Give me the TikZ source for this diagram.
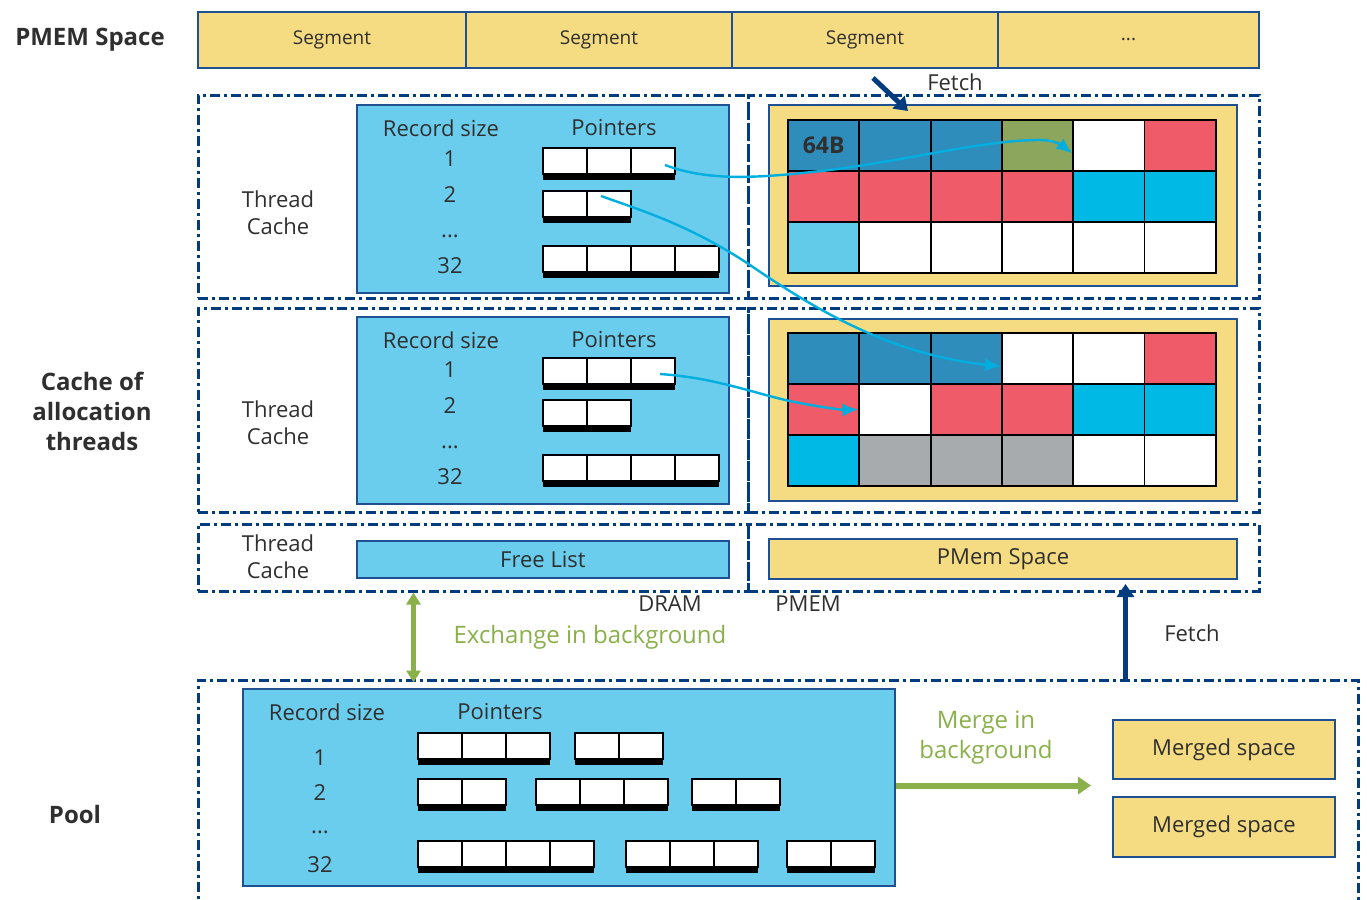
\documentclass[tikz,border=0pt]{standalone}
\usepackage{fontspec}
\setmainfont{Open Sans}
\usepackage{xcolor}
\usepackage{tikz}
\usetikzlibrary{positioning,arrows.meta,calc}
\definecolor{navy}{HTML}{003C7E}
\definecolor{edge}{HTML}{1F5192}
\definecolor{txt}{HTML}{2F2F2F}
\definecolor{sand}{HTML}{F5DC82}
\definecolor{sky}{HTML}{6BCDED}
\definecolor{leaf}{HTML}{8AB04A}
\definecolor{wire}{HTML}{00AEDF}
\definecolor{cdk}{HTML}{2E8DBA}
\definecolor{cog}{HTML}{8CA65E}
\definecolor{crd}{HTML}{EF5B69}
\definecolor{ccy}{HTML}{00B9E5}
\definecolor{clb}{HTML}{63CBEA}
\definecolor{cgy}{HTML}{A8ABAE}
\definecolor{cwh}{HTML}{FFFFFF}

% one row of pointer slots: name, left x, top y, number of slots
\newcommand{\ptrarray}[4]{%
  \fill[black] (#2,#3+26) rectangle ++(44*#4,6);
  \foreach \k in {1,...,#4}
    \node[ptrcell] (#1-\k) at ({#2+44*(\k-0.5)},{#3+13}) {};
}

\begin{document}
\begin{tikzpicture}[x=1pt, y=-1pt,
  font=\fontsize{22}{27}\selectfont,
  every node/.append style={text=txt},
  zone/.style={draw=navy, line width=3pt, dash pattern=on 10pt off 4pt on 3pt off 4pt, inner sep=0pt},
  panel/.style={draw=edge, line width=2pt, inner sep=0pt},
  ptrcell/.style={draw=black, fill=white, line width=1.6pt, minimum width=44pt, minimum height=26pt, inner sep=0pt},
  cell/.style={draw=black, line width=1.8pt, minimum width=71.3pt, minimum height=51pt, inner sep=0pt},
  side/.style={font=\bfseries\fontsize{24}{30}\selectfont, align=center},
  link/.style={-{Latex[length=16pt,width=13pt]}, line width=2.4pt, draw=wire},
  fetch/.style={-{Triangle[length=13pt,width=17pt]}, line width=5pt, draw=navy},
  xchg/.style={{Triangle[length=12pt,width=14pt]}-{Triangle[length=12pt,width=14pt]}, line width=5pt, draw=leaf},
  merge/.style={-{Triangle[length=13pt,width=17pt]}, line width=6pt, draw=leaf}
]
  \useasboundingbox (0,0) rectangle (1367,899);

  % PMEM SPACE: segment bar
  \node[side] (pmemlbl) at (90,40) {PMEM Space};
  \node[panel, fill=sand, minimum width=268pt, minimum height=56pt, font=\fontsize{19}{23}\selectfont] (seg1) at (332,40) {Segment};
  \node[panel, fill=sand, minimum width=266pt, minimum height=56pt, font=\fontsize{19}{23}\selectfont] (seg2) at (599,40) {Segment};
  \node[panel, fill=sand, minimum width=266pt, minimum height=56pt, font=\fontsize{19}{23}\selectfont] (seg3) at (865,40) {Segment};
  \node[panel, fill=sand, minimum width=261pt, minimum height=56pt, font=\fontsize{19}{23}\selectfont] (seg4) at (1128.5,40) {...};

  % dashed zones (DRAM left, PMEM right)
  \node[zone, minimum width=550pt, minimum height=203pt] (zA) at (473,196.5) {};
  \node[zone, minimum width=511pt, minimum height=203pt] (zB) at (1003.5,196.5) {};
  \node[zone, minimum width=550pt, minimum height=204pt] (zC) at (473,410) {};
  \node[zone, minimum width=511pt, minimum height=204pt] (zD) at (1003.5,410) {};
  \node[zone, minimum width=550pt, minimum height=67pt] (zE) at (473,557.5) {};
  \node[zone, minimum width=511pt, minimum height=67pt] (zF) at (1003.5,557.5) {};
  \node[zone, minimum width=1160pt, minimum height=250pt] (pool) at (778,805) {};

  % CACHE OF ALLOCATION THREADS
  \node[side] (cachelbl) at (92,411) {Cache of\\allocation\\threads};
  \node[align=center] (thA) at (278,213) {Thread\\Cache};
  \node[align=center] (thB) at (278,423) {Thread\\Cache};
  \node[align=center] (thC) at (278,557) {Thread\\Cache};

  \node[panel, fill=sky, minimum width=372pt, minimum height=188pt] (tcA) at (543,199) {};
  \node[panel, fill=sky, minimum width=372pt, minimum height=187pt] (tcB) at (543,410.5) {};
  \node[panel, fill=sky, minimum width=372pt, minimum height=37pt] (freel) at (543,559.5) {Free List};
  \node[panel, fill=sand, minimum width=468pt, minimum height=181pt] (ybA) at (1003,195.5) {};
  \node[panel, fill=sand, minimum width=468pt, minimum height=182pt] (ybB) at (1003,410) {};
  \node[panel, fill=sand, minimum width=468pt, minimum height=40pt] (pmemsp) at (1003,559) {PMem Space};

  % thread cache 1
  \node (rsA) at (441,128) {Record size};
  \node (ptA) at (614,128) {Pointers};
  \node (nA1) at (450,159) {1};
  \node (nA2) at (450,195) {2};
  \node (nA3) at (450,236) {...};
  \node (nA4) at (450,266) {32};
  \ptrarray{t1a}{543}{148}{3}
  \ptrarray{t1b}{543}{191}{2}
  \ptrarray{t1c}{543}{246}{4}

  % thread cache 2
  \node (rsB) at (441,340) {Record size};
  \node (ptB) at (614,340) {Pointers};
  \node (nB1) at (450,370) {1};
  \node (nB2) at (450,406) {2};
  \node (nB3) at (450,447) {...};
  \node (nB4) at (450,477) {32};
  \ptrarray{s1a}{543}{358}{3}
  \ptrarray{s1b}{543}{400}{2}
  \ptrarray{s1c}{543}{455}{4}

  % PMEM blocks
  \foreach \r/\row in {1/{cdk,cdk,cdk,cog,cwh,crd},2/{crd,crd,crd,crd,ccy,ccy},3/{clb,cwh,cwh,cwh,cwh,cwh}}
    \foreach \f [count=\c] in \row
      \node[cell, fill=\f] (a\r\c) at ({788+71.3*(\c-0.5)},{120+51*(\r-0.5)}) {};
  \foreach \r/\row in {1/{cdk,cdk,cdk,cwh,cwh,crd},2/{crd,cwh,crd,crd,ccy,ccy},3/{ccy,cgy,cgy,cgy,cwh,cwh}}
    \foreach \f [count=\c] in \row
      \node[cell, fill=\f] (b\r\c) at ({788+71.3*(\c-0.5)},{333+51*(\r-0.5)}) {};
  \node[font=\bfseries\fontsize{23}{27}\selectfont] (blk) at (a11) {64B};

  \coordinate (fetchtail) at (873,78);
  \draw[fetch] (fetchtail) -- ($(ybA.north west)+(140,7)$);
  \node (fetchA) at (955,82) {Fetch};

  % pointer links
  \draw[link] ($(t1a-3.center)+(12,4)$) .. controls (710,182) and (760,178) .. (830,170)
    .. controls (920,158) and (985,140) .. (1040,140) .. controls (1052,140) and (1060,144) .. ($(a15.west)+(0,8)$);
  \draw[link] ($(t1b-2.center)+(-8,-8)$) .. controls (640,210) and (690,225) .. (750,265)
    .. controls (830,320) and (900,355) .. ($(b14.west)+(0,8)$);
  \draw[link] ($(s1a-3.center)+(7,3)$) .. controls (720,378) and (760,396) .. (800,403)
    .. controls (825,408) and (845,410) .. (b22.west);

  \node (dramlbl) at (670,604) {DRAM};
  \node (pmemside) at (808,604) {PMEM};

  % POOL
  \node[side] (poollbl) at (75,814) {Pool};
  \node[panel, fill=sky, minimum width=652pt, minimum height=197pt] (poolbox) at (569,787.5) {};
  \node (rsP) at (327,712) {Record size};
  \node (ptP) at (500,712) {Pointers};
  \node (nP1) at (320,758) {1};
  \node (nP2) at (320,793) {2};
  \node (nP3) at (320,832) {...};
  \node (nP4) at (320,865) {32};
  \ptrarray{p1a}{418}{733}{3}
  \ptrarray{p1b}{575}{733}{2}
  \ptrarray{p2a}{418}{779}{2}
  \ptrarray{p2b}{536}{779}{3}
  \ptrarray{p2c}{692}{779}{2}
  \ptrarray{p3a}{418}{841}{4}
  \ptrarray{p3b}{626}{841}{3}
  \ptrarray{p3c}{787}{841}{2}

  \node[panel, fill=sand, minimum width=222pt, minimum height=59pt] (mrgA) at (1224,749.5) {Merged space};
  \node[panel, fill=sand, minimum width=222pt, minimum height=60pt] (mrgB) at (1224,827) {Merged space};

  % background work
  \draw[xchg] ($(zE.south west)+(217,0)$) -- ($(pool.north west)+(217,4)$);
  \node[text=leaf, font=\fontsize{24}{30}\selectfont] (xchglbl) at (590,637) {Exchange in background};
  \draw[merge] ($(poolbox.east)+(0,-2)$) -- ++(195,0);
  \node[text=leaf, font=\fontsize{24}{30}\selectfont, align=center] (mrglbl) at (986,738) {Merge in\\background};
  \coordinate (fb) at ($(pool.north west)+(929,0)$);
  \draw[fetch] (fb) -- ($(fb |- pmemsp.south)+(0,4)$);
  \node (fetchB) at (1192,633) {Fetch};

\end{tikzpicture}
\end{document}
